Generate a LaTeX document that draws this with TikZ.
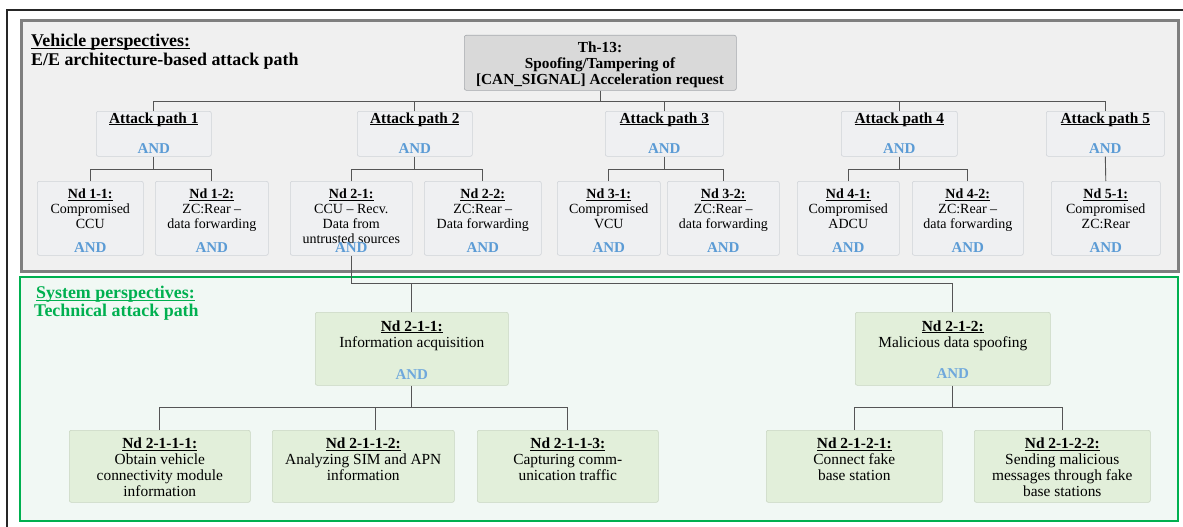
\documentclass[tikz,border=0pt]{standalone}
\usepackage{fontspec}
\usetikzlibrary{calc}
\setmainfont{Liberation Serif}
\definecolor{framegrey}{HTML}{7F7F7F}
\definecolor{panelgrey}{HTML}{F0F0F0}
\definecolor{boxgrey}{HTML}{EFF0F2}
\definecolor{boxedge}{HTML}{D0D3D8}
\definecolor{topgrey}{HTML}{D9D9D9}
\definecolor{sysgreen}{HTML}{00B050}
\definecolor{panelgreen}{HTML}{F1F8F4}
\definecolor{boxgreen}{HTML}{E2EFDA}
\definecolor{greenedge}{HTML}{C9D6C2}
\definecolor{andblue}{HTML}{5B9BD5}
\definecolor{andlight}{HTML}{6FA8DC}
\definecolor{wire}{HTML}{555555}
% underline drawn just below the baseline, not affecting line spacing
\newcommand\ulin[1]{\setbox0\hbox{#1}\rlap{\smash{\rule[-1.7pt]{\wd0}{0.8pt}}}\box0}
\newcommand\ttl[1]{\ulin{\textbf{#1}}}
\begin{document}
\begin{tikzpicture}[x=1pt,y=-1pt,
  gbox/.style={draw=boxedge,fill=boxgrey,rounded corners=2pt,line width=0.6pt,anchor=north west,inner sep=0pt},
  lbox/.style={draw=greenedge,fill=boxgreen,rounded corners=2pt,line width=0.6pt,anchor=north west,inner sep=0pt},
  tbox/.style={draw=boxedge!80!black,fill=topgrey,rounded corners=2pt,line width=0.6pt,anchor=north west,inner sep=0pt},
  upper/.style={inner sep=0pt,align=center,anchor=north,font=\fontsize{14}{15}\selectfont},
  lower/.style={inner sep=0pt,align=center,anchor=north,font=\fontsize{15.4}{16}\selectfont},
  headtxt/.style={inner sep=0pt,anchor=base,font=\fontsize{15.3}{16}\selectfont\bfseries},
  andtxt/.style={inner sep=0pt,anchor=base,text=andblue,font=\fontsize{15}{16}\selectfont\bfseries},
  andlow/.style={andtxt,text=andlight},
  conn/.style={draw=wire,line width=0.9pt}]
\useasboundingbox (0,0) rectangle (1183,527);
\fill[white] (0,0) rectangle (1183,527);

% outer page frame
\draw[line width=1.3pt,draw=black!85] (7,540) -- (7,10) -- (1200,10);

% vehicle perspective panel
\draw[line width=3pt,draw=framegrey,fill=panelgrey] (21,21) rectangle (1178,271);
\node[inner sep=0pt,anchor=north west,align=left,font=\fontsize{17.9}{18.5}\selectfont\bfseries] (vhead) at (31,34)
  {\ulin{Vehicle perspectives:}\\E/E architecture-based attack path};

% system perspective panel
\draw[line width=2.5pt,draw=sysgreen,fill=panelgreen] (20,277) rectangle (1178,521);
\node[inner sep=0pt,anchor=north west,align=left,text=sysgreen,font=\fontsize{17.9}{18}\selectfont\bfseries] (shead) at (34,286)
  {\hspace*{2pt}\ulin{System perspectives:}\\Technical attack path};

% threat root
\node[tbox,minimum width=272pt,minimum height=55pt] (th) at (464,35) {};
\node[inner sep=0pt,align=center,anchor=north,font=\fontsize{15.3}{16}\selectfont\bfseries] (tht) at (600,41.5)
  {Th-13:\\Spoofing/Tampering of\\{[CAN\_SIGNAL]} Acceleration request};

% attack paths
\foreach \n/\xa/\xb in {1/96/211,2/357/472,3/605/723,4/841/957,5/1046/1164}{
  \pgfmathsetmacro\w{\xb-\xa}
  \node[gbox,minimum width=\w pt,minimum height=45pt] (ap\n) at (\xa,111) {};
  \node[headtxt] (apt\n) at ($(ap\n.north)+(0,12.5)$) {\ttl{Attack path \n}};
  \node[andtxt] (apa\n) at ($(ap\n.north)+(0,42)$) {AND};
}

% vehicle-level nodes
\foreach \id/\xa/\xb/\txt in {
  11/37/143/{\ttl{Nd 1-1:}\\Compromised\\CCU},
  12/155/268/{\ttl{Nd 1-2:}\\ZC:Rear --\\data forwarding},
  21/290/412/{\ttl{Nd 2-1:}\\CCU -- Recv.\\Data from\\untrusted sources},
  22/424/541/{\ttl{Nd 2-2:}\\ZC:Rear --\\Data forwarding},
  31/557/660/{\ttl{Nd 3-1:}\\Compromised\\VCU},
  32/667/779/{\ttl{Nd 3-2:}\\ZC:Rear --\\data forwarding},
  41/797/899/{\ttl{Nd 4-1:}\\Compromised\\ADCU},
  42/912/1023/{\ttl{Nd 4-2:}\\ZC:Rear --\\data forwarding},
  51/1051/1160/{\ttl{Nd 5-1:}\\Compromised\\ZC:Rear}}{
  \pgfmathsetmacro\w{\xb-\xa}
  \node[gbox,minimum width=\w pt,minimum height=74pt] (n\id) at (\xa,181) {};
  \node[upper] (nt\id) at ($(n\id.north)+(0,8)$) {\txt};
  \node[andtxt] (na\id) at ($(n\id.north)+(0,71)$) {AND};
}

% technical nodes
\node[lbox,minimum width=193pt,minimum height=73pt] (m211) at (315,312) {};
\node[lower] (mt211) at ($(m211.north)+(0,8.5)$) {\ttl{Nd 2-1-1:}\\Information acquisition};
\node[andlow] (ma211) at ($(m211.north)+(0,67)$) {AND};
\node[lbox,minimum width=195pt,minimum height=73pt] (m212) at (855,312) {};
\node[lower] (mt212) at ($(m212.north)+(0,8.5)$) {\ttl{Nd 2-1-2:}\\Malicious data spoofing};
\node[andlow] (ma212) at ($(m212.north)+(0,66)$) {AND};

\foreach \id/\xa/\xb/\txt in {
  2111/69/250/{\ttl{Nd 2-1-1-1:}\\Obtain vehicle\\connectivity module\\information},
  2112/272/454/{\ttl{Nd 2-1-1-2:}\\Analyzing SIM and APN\\information},
  2113/477/658/{\ttl{Nd 2-1-1-3:}\\Capturing comm-\\unication traffic},
  2121/766/942/{\ttl{Nd 2-1-2-1:}\\Connect fake\\base station},
  2122/974/1150/{\ttl{Nd 2-1-2-2:}\\Sending malicious\\messages through fake\\base stations}}{
  \pgfmathsetmacro\w{\xb-\xa}
  \node[lbox,minimum width=\w pt,minimum height=72pt] (m\id) at (\xa,430) {};
  \node[lower] (mt\id) at ($(m\id.north)+(0,8)$) {\txt};
}

% connectors: threat to attack paths
\coordinate (busA) at (0,101);
\draw[conn] (th.south) -- (th.south |- busA);
\draw[conn] (ap1.north) -- (ap1.north |- busA) -- (ap5.north |- busA) -- (ap5.north);
\foreach \n in {2,3,4}{\draw[conn] (ap\n.north) -- (ap\n.north |- busA);}

% connectors: attack paths to vehicle-level nodes
\coordinate (busB) at (0,169);
\foreach \p/\a/\b in {1/11/12,2/21/22,3/31/32,4/41/42}{
  \draw[conn] (ap\p.south) -- (ap\p.south |- busB);
  \draw[conn] (n\a.north) -- (n\a.north |- busB) -- (n\b.north |- busB) -- (n\b.north);
}
\draw[conn] (ap5.south) -- (n51.north);

% connectors: Nd 2-1 to technical attack path
\coordinate (busC) at (0,283);
\draw[conn] (n21.south) -- (n21.south |- busC) -- (m212.north |- busC) -- (m212.north);
\draw[conn] (m211.north) -- (m211.north |- busC);

\coordinate (busD) at (0,407);
\draw[conn] (m211.south) -- (m211.south |- busD);
\draw[conn] (m2111.north) -- (m2111.north |- busD) -- (m2113.north |- busD) -- (m2113.north);
\draw[conn] ([xshift=12pt]m2112.north) -- ([xshift=12pt]m2112.north |- busD);
\draw[conn] (m212.south) -- (m212.south |- busD);
\draw[conn] (m2121.north) -- (m2121.north |- busD) -- (m2122.north |- busD) -- (m2122.north);
\end{tikzpicture}
\end{document}
